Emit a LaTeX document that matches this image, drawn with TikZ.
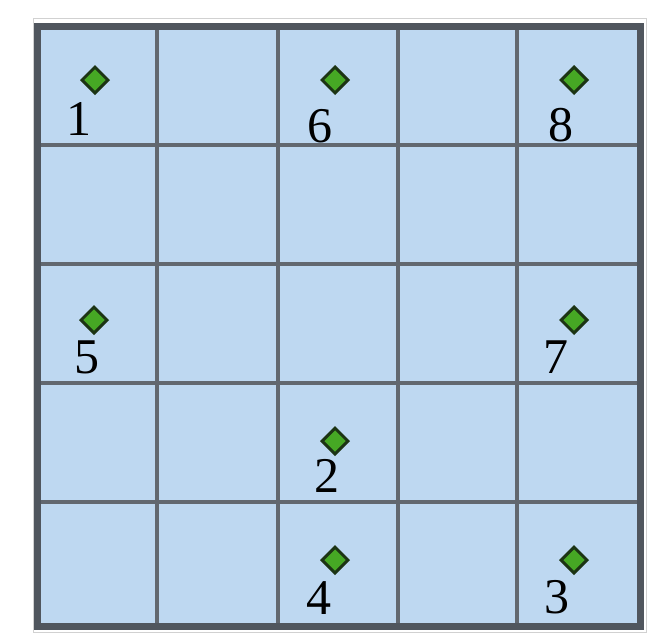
\documentclass[tikz,border=0pt]{standalone}
\usepackage{fontspec}
\setmainfont{Liberation Serif}
\usetikzlibrary{shapes.geometric}
\definecolor{cellfill}{RGB}{190,216,241}
\definecolor{gridline}{RGB}{98,104,112}
\definecolor{frameline}{RGB}{80,86,94}
\definecolor{gemfill}{RGB}{70,168,36}
\definecolor{gemdraw}{RGB}{28,52,20}
\tikzset{
  gem/.style={diamond, aspect=1, inner sep=0pt, minimum width=27pt, minimum height=27pt,
    fill=gemfill, draw=gemdraw, line width=3pt},
  numlabel/.style={anchor=base, inner sep=0pt, font=\fontsize{50}{50}\selectfont, text=black},
}
\begin{document}
\begin{tikzpicture}[x=1pt,y=-1pt]
\useasboundingbox (0,0) rectangle (656,640);
\fill[white] (0,0) rectangle (656,640);
% faint outer frame
\draw[black!18, line width=1pt] (33,18) -- (646,18) -- (646,632) -- (33,632) -- cycle;
% cell fill
\fill[cellfill] (37,26) rectangle (640,626);
% inner grid lines
\foreach \x in {157,278,398,517} \draw[gridline, line width=4pt] (\x,26) -- (\x,626);
\foreach \y in {145,264,383,502} \draw[gridline, line width=4pt] (37,\y) -- (640,\y);
% outer frame
\draw[frameline, line width=7pt] (37,26) rectangle (640,626);
% gems
\node[gem] (g1) at (95,80) {};
\node[gem] (g6) at (335,80) {};
\node[gem] (g8) at (574,80) {};
\node[gem] (g5) at (94,320) {};
\node[gem] (g7) at (574,320) {};
\node[gem] (g2) at (335,441) {};
\node[gem] (g4) at (335,560) {};
\node[gem] (g3) at (574,560) {};
% labels
\node[numlabel] (l1) at (79,135) {1};
\node[numlabel] (l6) at (320,142) {6};
\node[numlabel] (l8) at (561,141) {8};
\node[numlabel] (l5) at (87,373) {5};
\node[numlabel] (l7) at (556,373) {7};
\node[numlabel] (l2) at (327,492) {2};
\node[numlabel] (l4) at (319,614) {4};
\node[numlabel] (l3) at (557,613) {3};
\end{tikzpicture}
\end{document}
